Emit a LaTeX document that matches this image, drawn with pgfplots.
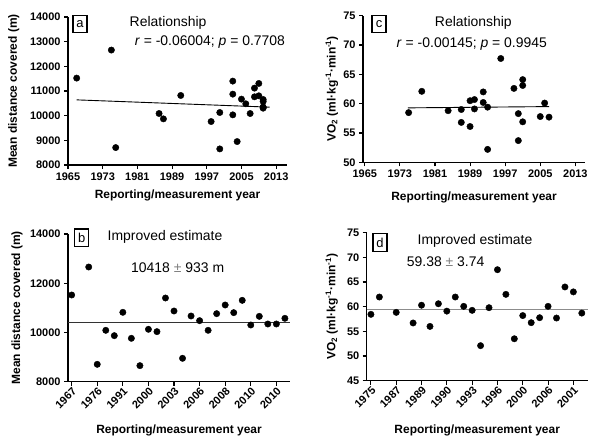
\documentclass[border=0pt]{standalone}
\usepackage{fontspec}
\setmainfont{Liberation Sans}
\usepackage{pgfplots}
\usepackage{pgfplotstable}
\pgfplotsset{compat=1.18}

\pgfplotstableread{
year val
1967 11522
1975 12659
1976 8706
1986 10087
1987 9870
1991 10818
1998 9762
2000 8652
2000 10128
2003 10033
2003 11400
2003 10872
2004 8950
2005 10669
2006 10480
2007 10087
2008 10764
2008 11116
2009 10805
2009 11305
2010 10303
2010 10655
2010 10344
2010 10344
2010 10574
}\tabA

\pgfplotstableread{
idx val
0 11522
2 12659
3 8706
4 10087
5 9870
6 10818
7 9762
8 8652
9 10128
10 10033
11 11400
12 10872
13 8950
14 10669
15 10480
16 10087
17 10764
18 11116
19 10805
20 11305
21 10303
22 10655
23 10344
24 10344
25 10574
}\tabB

\pgfplotstableread{
year val
1975 58.47
1978 62.1
1984 58.8
1987 59.0
1987 56.8
1989 56.1
1989 60.5
1990 60.7
1990 59.1
1992 62.0
1992 60.2
1993 59.4
1993 52.2
1996 67.7
1999 62.6
2000 58.3
2000 53.7
2001 64.1
2001 63.1
2001 56.9
2005 57.8
2006 60.1
2007 57.7
}\tabC

\pgfplotstableread{
idx val
0 58.45
1 61.96
3 58.85
5 56.7
6 60.3
7 56.0
8 60.6
9 59.1
10 61.96
11 60.07
12 59.26
13 52.1
14 59.8
15 67.5
16 62.5
17 53.5
18 58.2
19 56.76
20 57.77
21 60.07
22 57.7
23 64.0
24 63.0
25 58.7
}\tabD

\pgfplotsset{gp/.style={
  scale only axis,
  axis x line=bottom, axis y line=left,
  axis line style={-, line width=1.1bp, black},
  tick align=outside, major tick length=4bp,
  every tick/.style={black, line width=1.1bp},
  scaled ticks=false,
  /pgf/number format/assume math mode=true,
  /pgf/number format/1000 sep={},
  /pgf/number format/fixed,
  ticklabel style={font=\fontsize{11}{12}\selectfont\bfseries, text=black},
  label style={font=\fontsize{12}{14}\selectfont\bfseries},
  clip=false,
}}
\tikzset{
  pbox/.style={draw, line width=1.3bp, inner sep=0pt, minimum width=14bp, minimum height=17.5bp, font=\fontsize{13}{14}\selectfont},
  ann/.style={font=\fontsize{14}{16}\selectfont, inner sep=0pt},
  dot/.style={only marks, mark=*, mark size=3.2bp, black, mark options={fill=black}},
}

\begin{document}
\begin{tikzpicture}[x=1bp,y=1bp]
\useasboundingbox (0,0) rectangle (600,444);

% Panel a
\begin{axis}[gp, at={(68bp,279bp)}, width=219bp, height=148bp,
  xmin=1965, xmax=2015.5, ymin=8000, ymax=14000,
  xtick={1965,1973,...,2013}, ytick={8000,9000,...,14000},
  xlabel={Reporting/measurement year}, ylabel={Mean distance covered (m)},
  xlabel style={at={(axis description cs:0.5,-0.203)}, anchor=center},
  ylabel style={at={(axis description cs:-0.247,0.5)}, anchor=center},
]
\addplot[dot] table[x=year,y=val]{\tabA};
\addplot[black, line width=0.9bp] coordinates {(1967,10640) (2011.5,10345)};
\node[pbox] at (axis description cs:0.055,0.953) {a};
\node[ann] at (axis description cs:0.457,0.96) {Relationship};
\node[ann] at (axis description cs:0.648,0.833) {\textit{r} = -0.06004; \textit{p} = 0.7708};
\end{axis}

% Panel c
\begin{axis}[gp, at={(363bp,281.7bp)}, width=222bp, height=146.6bp,
  xmin=1964.6, xmax=2015.2, ymin=50, ymax=75,
  xtick={1965,1973,...,2013}, ytick={50,55,...,75},
  xlabel={Reporting/measurement year}, ylabel={VO\textsubscript{2} (ml·kg\textsuperscript{-1}·min\textsuperscript{-1})},
  xlabel style={at={(axis description cs:0.5,-0.237)}, anchor=center},
  ylabel style={at={(axis description cs:-0.14,0.5)}, anchor=center},
]
\addplot[dot] table[x=year,y=val]{\tabC};
\addplot[black, line width=0.9bp] coordinates {(1974.8,59.28) (2007,59.5)};
\node[pbox] at (axis description cs:0.072,0.943) {c};
\node[ann] at (axis description cs:0.497,0.954) {Relationship};
\node[ann] at (axis description cs:0.49,0.807) {\textit{r} = -0.00145; \textit{p} = 0.9945};
\end{axis}

% Panel b
\begin{axis}[gp, at={(68bp,62.3bp)}, width=222bp, height=147.7bp,
  xmin=-0.43, xmax=25.6, ymin=8000, ymax=14000,
  xtick={0,3,...,24}, xticklabels={1967,1976,1991,2000,2003,2006,2008,2010,2010},
  xticklabel style={rotate=45, anchor=north east, inner sep=0.5bp},
  ytick={8000,10000,12000,14000},
  xlabel={Reporting/measurement year}, ylabel={Mean distance covered (m)},
  xlabel style={at={(axis description cs:0.5,-0.327)}, anchor=center},
  ylabel style={at={(axis description cs:-0.23,0.5)}, anchor=center},
]
\addplot[black!80, line width=1.2bp] coordinates {(-0.43,10418) (25.6,10418)};
\addplot[dot] table[x=idx,y=val]{\tabB};
\node[pbox] at (axis description cs:0.062,0.975) {b};
\node[ann] at (axis description cs:0.437,0.98) {Improved estimate};
\node[ann] at (axis description cs:0.494,0.772) {10418 {\color{black!50}±} 933 m};
\end{axis}

% Panel d
\begin{axis}[gp, at={(366.7bp,63.3bp)}, width=221bp, height=148bp,
  xmin=-0.5, xmax=25.7, ymin=45, ymax=75,
  xtick={0,3,...,24}, xticklabels={1975,1987,1989,1990,1993,1996,2000,2006,2001},
  xticklabel style={rotate=45, anchor=north east, inner sep=0.5bp},
  ytick={45,50,...,75},
  xlabel={Reporting/measurement year}, ylabel={VO\textsubscript{2} (ml·kg\textsuperscript{-1}·min\textsuperscript{-1})},
  xlabel style={at={(axis description cs:0.5,-0.338)}, anchor=center},
  ylabel style={at={(axis description cs:-0.158,0.5)}, anchor=center},
]
\addplot[black!45, line width=1.2bp] coordinates {(-0.5,59.38) (25.7,59.38)};
\addplot[dot] table[x=idx,y=val]{\tabD};
\node[pbox] at (axis description cs:0.06,0.934) {d};
\node[ann] at (axis description cs:0.49,0.946) {Improved estimate};
\node[ann] at (axis description cs:0.357,0.804) {59.38 {\color{black!50}±} 3.74};
\end{axis}
\end{tikzpicture}
\end{document}
